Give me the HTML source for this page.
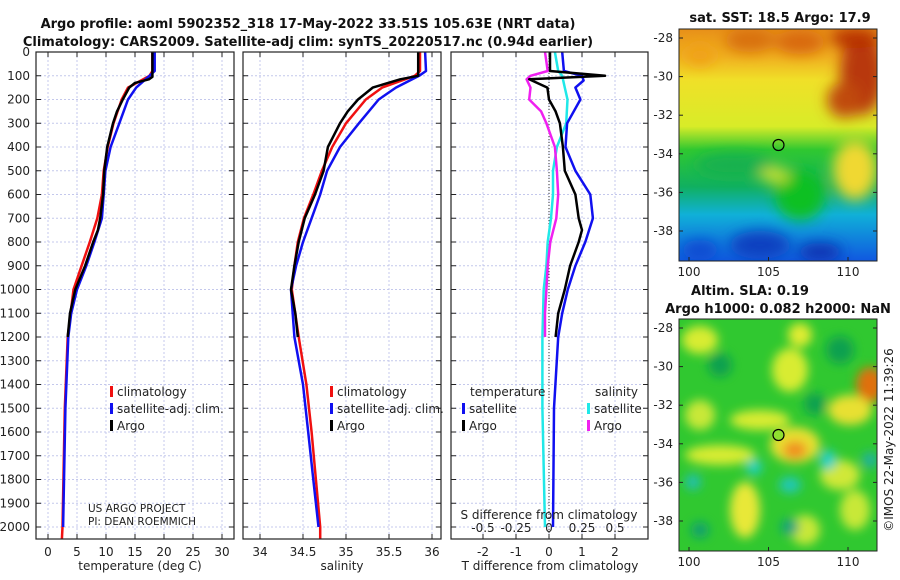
<!DOCTYPE html>
<html><head><meta charset="utf-8"><style>
body{margin:0;background:#fff;}
svg{display:block;font-family:"DejaVu Sans","Liberation Sans",sans-serif;}
.t{font-size:12px;fill:#222;}
.b{font-size:13px;font-weight:bold;fill:#111;}
</style></head><body>
<svg id="fig" width="900" height="580" viewBox="0 0 900 580" xmlns="http://www.w3.org/2000/svg">
<defs>
<filter id="bl" x="-50%" y="-50%" width="200%" height="200%"><feGaussianBlur stdDeviation="7"/></filter>
<filter id="bl2" x="-50%" y="-50%" width="200%" height="200%"><feGaussianBlur stdDeviation="5"/></filter>
<clipPath id="c1"><rect x="679" y="29" width="198" height="232"/></clipPath>
<clipPath id="c2"><rect x="679" y="319" width="198" height="232"/></clipPath>
<linearGradient id="sstg" x1="0" y1="0" x2="0" y2="1">
<stop offset="0" stop-color="#e89018"/><stop offset="0.12" stop-color="#f0b020"/><stop offset="0.22" stop-color="#f0e028"/><stop offset="0.42" stop-color="#d8ec28"/>
<stop offset="0.52" stop-color="#30c830"/><stop offset="0.68" stop-color="#10b060"/><stop offset="0.8" stop-color="#10b0d8"/><stop offset="1" stop-color="#1058e0"/>
</linearGradient>
</defs>
<text class="b" x="308" y="28" text-anchor="middle">Argo profile: aoml 5902352_318 17-May-2022 33.51S 105.63E (NRT data)</text>
<text class="b" x="308" y="46" text-anchor="middle">Climatology: CARS2009. Satellite-adj clim: synTS_20220517.nc (0.94d earlier)</text>
<g id="plots"></g>

<!-- SST map -->
<g>
<g clip-path="url(#c1)">
<rect x="679" y="29" width="198" height="232" fill="url(#sstg)"/>
<g filter="url(#bl)">
<ellipse cx="862" cy="75" rx="22" ry="40" fill="#b83808"/>
<ellipse cx="845" cy="100" rx="18" ry="18" fill="#c04808"/>
<ellipse cx="750" cy="40" rx="25" ry="12" fill="#d87010"/>
<ellipse cx="800" cy="42" rx="25" ry="12" fill="#d86810"/>
<ellipse cx="855" cy="38" rx="25" ry="10" fill="#b83000"/>
<ellipse cx="700" cy="55" rx="15" ry="10" fill="#f0a018"/>
<ellipse cx="855" cy="170" rx="22" ry="30" fill="#f0d830"/>
<ellipse cx="735" cy="165" rx="40" ry="12" fill="#18b050"/>
<ellipse cx="800" cy="195" rx="25" ry="25" fill="#10c020"/>
<ellipse cx="775" cy="175" rx="15" ry="8" fill="#c8e030"/>
<ellipse cx="760" cy="245" rx="30" ry="14" fill="#1040c0"/>
<ellipse cx="820" cy="252" rx="22" ry="9" fill="#0830b0"/>
<ellipse cx="700" cy="250" rx="18" ry="10" fill="#1048d0"/>
</g>
</g>
<rect x="679" y="29" width="198" height="232" fill="none" stroke="#222"/>
<circle cx="778.5" cy="145" r="5.5" fill="none" stroke="#000" stroke-width="1.2"/>
<text class="b" x="780" y="22" text-anchor="middle">sat. SST: 18.5 Argo: 17.9</text>
</g>
<!-- SLA map -->
<g>
<g clip-path="url(#c2)">
<rect x="679" y="319" width="198" height="232" fill="#30c830"/>
<g filter="url(#bl2)">
<ellipse cx="700" cy="340" rx="18" ry="14" fill="#d8ec30"/>
<ellipse cx="790" cy="370" rx="18" ry="22" fill="#d8ec30"/>
<ellipse cx="800" cy="335" rx="12" ry="12" fill="#e0ec30"/>
<ellipse cx="760" cy="420" rx="30" ry="10" fill="#d8ec30"/>
<ellipse cx="795" cy="445" rx="25" ry="18" fill="#e8e030"/>
<ellipse cx="795" cy="450" rx="12" ry="9" fill="#f09020"/>
<ellipse cx="720" cy="455" rx="35" ry="10" fill="#d8ec30"/>
<ellipse cx="870" cy="385" rx="14" ry="18" fill="#e07010"/>
<ellipse cx="850" cy="410" rx="22" ry="15" fill="#e8e030"/>
<ellipse cx="745" cy="510" rx="15" ry="28" fill="#e8e838"/>
<ellipse cx="700" cy="415" rx="15" ry="15" fill="#c8e838"/>
<ellipse cx="840" cy="475" rx="20" ry="15" fill="#d0e838"/>
<ellipse cx="855" cy="510" rx="15" ry="20" fill="#c8e838"/>
<ellipse cx="805" cy="530" rx="15" ry="15" fill="#c8e838"/>
<ellipse cx="720" cy="365" rx="12" ry="12" fill="#10a050"/>
<ellipse cx="815" cy="404" rx="11" ry="11" fill="#10a050"/>
<ellipse cx="840" cy="350" rx="14" ry="14" fill="#10a050"/>
<ellipse cx="754" cy="467" rx="8" ry="8" fill="#20d0c0"/>
<ellipse cx="693" cy="482" rx="8" ry="8" fill="#20c0b0"/>
<ellipse cx="790" cy="485" rx="11" ry="8" fill="#20c8b8"/>
<ellipse cx="828" cy="460" rx="8" ry="10" fill="#20d0c8"/>
<ellipse cx="870" cy="460" rx="8" ry="8" fill="#20b0a0"/>
<ellipse cx="790" cy="527" rx="9" ry="8" fill="#10a080"/>
<ellipse cx="700" cy="530" rx="9" ry="8" fill="#10a070"/>
</g>
</g>
<rect x="679" y="319" width="198" height="232" fill="none" stroke="#222"/>
<circle cx="778.5" cy="435" r="5.5" fill="#90e030" stroke="#000" stroke-width="1.2"/>
<text class="b" x="750" y="295" text-anchor="middle">Altim. SLA: 0.19</text>
<text class="b" x="778" y="313" text-anchor="middle">Argo h1000: 0.082 h2000: NaN</text>
</g>
<text class="t" transform="translate(893,440) rotate(-90)" text-anchor="middle">©IMOS 22-May-2022 11:39:26</text>
<g id="mapaxes"></g>
</svg>
<script>
// depth axis
const depthTicks=[0,100,200,300,400,500,600,700,800,900,1000,1100,1200,1300,1400,1500,1600,1700,1800,1900,2000];
// temperature panel
const tDepthArgo=[0,105,115,130,150,200,250,300,400,500,600,700,750,800,900,1000,1100,1200];
const tArgo=[18,18,17.4,15,14,12.9,11.9,11.2,10.2,9.7,9.5,9.0,8.6,7.8,6.4,4.7,3.8,3.4];
const tDepthClim=[0,80,100,150,200,300,400,500,600,700,800,900,1000,1100,1200,1500,2000,2050];
const tClim=[18.0,18.0,17.5,13.8,12.7,11.3,10.3,9.6,9.3,8.5,7.2,5.8,4.4,3.9,3.4,2.9,2.5,2.4];
const tDepthSat=[0,80,100,150,200,300,400,500,600,700,800,900,1000,1100,1200,1500,2000];
const tSat=[18.4,18.4,17.5,15.2,13.8,12.3,10.8,9.9,9.6,9.3,8.0,6.6,5.0,4.0,3.5,3.0,2.6];
const tTicks=[0,5,10,15,20,25,30];
// salinity panel
const sDepthArgo=[0,100,115,150,200,250,300,400,500,600,700,800,900,1000,1100,1200];
const sArgo=[35.84,35.84,35.63,35.31,35.14,35.02,34.93,34.79,34.74,34.64,34.52,34.45,34.40,34.36,34.41,34.44];
const sDepthClim=[0,80,100,150,200,300,400,500,600,700,800,900,1000,1200,1400,1600,1800,2000,2050];
const sClim=[35.86,35.86,35.8,35.42,35.23,35.0,34.84,34.72,34.62,34.51,34.44,34.40,34.37,34.45,34.54,34.6,34.65,34.70,34.70];
const sDepthSat=[0,80,100,150,200,300,400,500,600,700,800,900,1000,1200,1400,1600,1800,2000];
const sSat=[35.92,35.93,35.85,35.58,35.38,35.15,34.93,34.78,34.7,34.6,34.5,34.42,34.36,34.4,34.5,34.56,34.62,34.68];
const sTicks=[34,34.5,35,35.5,36];
// difference panel
const dDepthArgoT=[0,80,100,115,150,200,250,300,400,500,600,700,750,800,900,1000,1100,1200];
const dArgoT=[0.03,0.03,1.7,-0.6,-0.05,0,0.2,0.33,0.42,0.48,0.8,0.9,1.0,0.9,0.64,0.48,0.28,0.2];
const dDepthSatT=[0,80,100,120,150,200,300,400,500,600,700,800,900,1000,1100,1200,1500,2000];
const dSatT=[0.4,0.45,1.0,1.05,0.8,0.95,0.55,0.5,0.8,1.25,1.33,1.1,0.8,0.57,0.4,0.28,0.15,0.12];
const dDepthSatS=[0,80,100,150,200,300,400,500,600,700,800,900,1000,1200,1500,2000];
const dSatS=[0.045,0.07,0.1,0.12,0.14,0.13,0.06,0.03,0.03,0.015,-0.01,-0.02,-0.04,-0.05,-0.05,-0.03];
const dDepthArgoS=[0,80,100,115,150,200,250,300,400,500,600,700,800,900,1000,1100,1200];
const dArgoS=[-0.03,-0.01,-0.14,-0.17,-0.14,-0.15,-0.06,-0.02,0.045,0.06,0.07,0.055,0.01,-0.01,-0.02,-0.03,-0.03];
const dTTicks=[-2,-1,0,1,2];
const dSTicks=[-0.5,-0.25,0,0.25,0.5];
const dSTickLabels=["-0.5","-0.25","0","0.25","0.5"];
// map axes
const latTicks=[-28,-30,-32,-34,-36,-38];
const lonTicks=[100,105,110];

const NS="http://www.w3.org/2000/svg";
const g=document.getElementById('plots');
function mk(tag,attrs,parent){const e=document.createElementNS(NS,tag);for(const k in attrs)e.setAttribute(k,attrs[k]);(parent||g).appendChild(e);return e;}
const Y0=52,Ybot=539;
function yScale(d){return Y0+d*0.2375;}
const panels=[{x0:36,x1:234,name:'temperature'},{x0:243,x1:441,name:'salinity'},{x0:451,x1:648,name:'difference'}];
function xT(v){return 48+v*5.8;}
function xS(v){return 260+(v-34)*86;}
function xD(v){return 549+v*33;}
function xDS(v){return 549+v*132;}

panels.forEach((p,i)=>{
  const pg=mk('g',{});
  
  
  depthTicks.forEach(d=>{
    const y=yScale(d);
    const ln=mk('line',{x1:p.x0,x2:p.x1,y1:y,y2:y,stroke:'#c4c8ec','stroke-dasharray':'2,2','stroke-width':1},pg);
    
    
    mk('line',{x1:p.x0,x2:p.x0+5,y1:y,y2:y,stroke:'#222'},pg);
    mk('line',{x1:p.x1,x2:p.x1-5,y1:y,y2:y,stroke:'#222'},pg);
    if(i===0){const t=mk('text',{x:30,y:y+4,'text-anchor':'end',class:'t'},pg);t.textContent=d;
      }
  });
  p.g=pg;
});
function xticks(pg,ticks,fx,labels,ty){
  ticks.forEach((v,k)=>{const x=fx(v);
    mk('line',{x1:x,x2:x,y1:Y0,y2:Ybot,stroke:'#c4c8ec','stroke-dasharray':'2,2'},pg);
    mk('line',{x1:x,x2:x,y1:Ybot,y2:Ybot-5,stroke:'#222'},pg);
    mk('line',{x1:x,x2:x,y1:Y0,y2:Y0+5,stroke:'#222'},pg);
    const t=mk('text',{x:x,y:ty,'text-anchor':'middle',class:'t'},pg);t.textContent=labels?labels[k]:v;
    
  });
}
xticks(panels[0].g,tTicks,xT,null,556);
xticks(panels[1].g,sTicks,xS,null,556);
xticks(panels[2].g,dTTicks,xD,null,556);
dSTicks.forEach((v,k)=>{const t=mk('text',{x:xDS(v),y:532,'text-anchor':'middle',class:'t'},panels[2].g);t.textContent=dSTickLabels[k];
  });

function line(pg,depths,vals,fx,color,name,w){
  const pts=depths.map((d,k)=>fx(vals[k]).toFixed(1)+','+yScale(d).toFixed(1)).join(' ');
  const e=mk('polyline',{points:pts,fill:'none',stroke:color,'stroke-width':w||2.5,'stroke-linejoin':'round'},pg);
  
  
}
line(panels[0].g,tDepthClim,tClim,xT,'#f01010','temperature-climatology-line');
line(panels[0].g,tDepthSat,tSat,xT,'#1010f0','temperature-satellite-line');
line(panels[0].g,tDepthArgo,tArgo,xT,'#000','temperature-argo-line');
line(panels[1].g,sDepthClim,sClim,xS,'#f01010','salinity-climatology-line');
line(panels[1].g,sDepthSat,sSat,xS,'#1010f0','salinity-satellite-line');
line(panels[1].g,sDepthArgo,sArgo,xS,'#000','salinity-argo-line');
mk('line',{x1:549,x2:549,y1:Y0,y2:Ybot,stroke:'#333','stroke-dasharray':'1,2'},panels[2].g);
line(panels[2].g,dDepthSatS,dSatS,xDS,'#20e8e8','salinity-diff-satellite-line');
line(panels[2].g,dDepthArgoS,dArgoS,xDS,'#f020f0','salinity-diff-argo-line');
line(panels[2].g,dDepthSatT,dSatT,xD,'#1010f0','temperature-diff-satellite-line');
line(panels[2].g,dDepthArgoT,dArgoT,xD,'#000','temperature-diff-argo-line');

panels.forEach(p=>{mk('rect',{x:p.x0,y:Y0,width:p.x1-p.x0,height:Ybot-Y0,fill:'none',stroke:'#222','stroke-width':1.2},p.g);});

function txt(x,y,s,name,anchor,cls,parent){const t=mk('text',{x:x,y:y,'text-anchor':anchor||'start',class:cls||'t'},parent);t.textContent=s;
  return t;}
function legend(x,y,items,prefix){
  items.forEach((it,k)=>{const yy=y+k*17;
    mk('rect',{x:x,y:yy-10,width:3,height:11,fill:it[1]});
    txt(x+7,yy,it[0],prefix+'-legend-entry','start','t');
  });
}
txt(140,570,'temperature (deg C)','x-axis-title-temperature','middle');
txt(342,570,'salinity','x-axis-title-salinity','middle');
txt(550,570,'T difference from climatology','x-axis-title-t-diff','middle');
txt(549,519,'S difference from climatology','s-diff-axis-title','middle');
legend(110,396,[['climatology','#f01010'],['satellite-adj. clim.','#1010f0'],['Argo','#000']],'temperature');
legend(330,396,[['climatology','#f01010'],['satellite-adj. clim.','#1010f0'],['Argo','#000']],'salinity');
txt(470,396,'temperature','diff-legend-temperature-header');
legend(462,413,[['satellite','#1010f0'],['Argo','#000']],'diff-temperature');
txt(595,396,'salinity','diff-legend-salinity-header');
legend(587,413,[['satellite','#20e8e8'],['Argo','#f020f0']],'diff-salinity');
const c1=txt(88,512,'US ARGO PROJECT','credit-project');c1.setAttribute('style','font-size:10.5px');
const c2=txt(88,525,'PI: DEAN ROEMMICH','credit-pi');c2.setAttribute('style','font-size:10.5px');

const ma=document.getElementById('mapaxes');
[[38,29,261],[328,319,551]].forEach((m,mi)=>{
  latTicks.forEach((la,k)=>{const y=m[0]+(-28-la)*19.3;
    mk('line',{x1:679,x2:683,y1:y,y2:y,stroke:'#222'},ma);
    mk('line',{x1:877,x2:873,y1:y,y2:y,stroke:'#222'},ma);
    txt(673,y+4,la,'map-lat-tick-label','end','t',ma);
  });
  lonTicks.forEach(lo=>{const x=689+(lo-100)*15.9;
    mk('line',{x1:x,x2:x,y1:m[2],y2:m[2]-4,stroke:'#222'},ma);
    txt(x,m[2]+15,lo,'map-lon-tick-label','middle','t',ma);
  });
});
</script>
</body></html>
